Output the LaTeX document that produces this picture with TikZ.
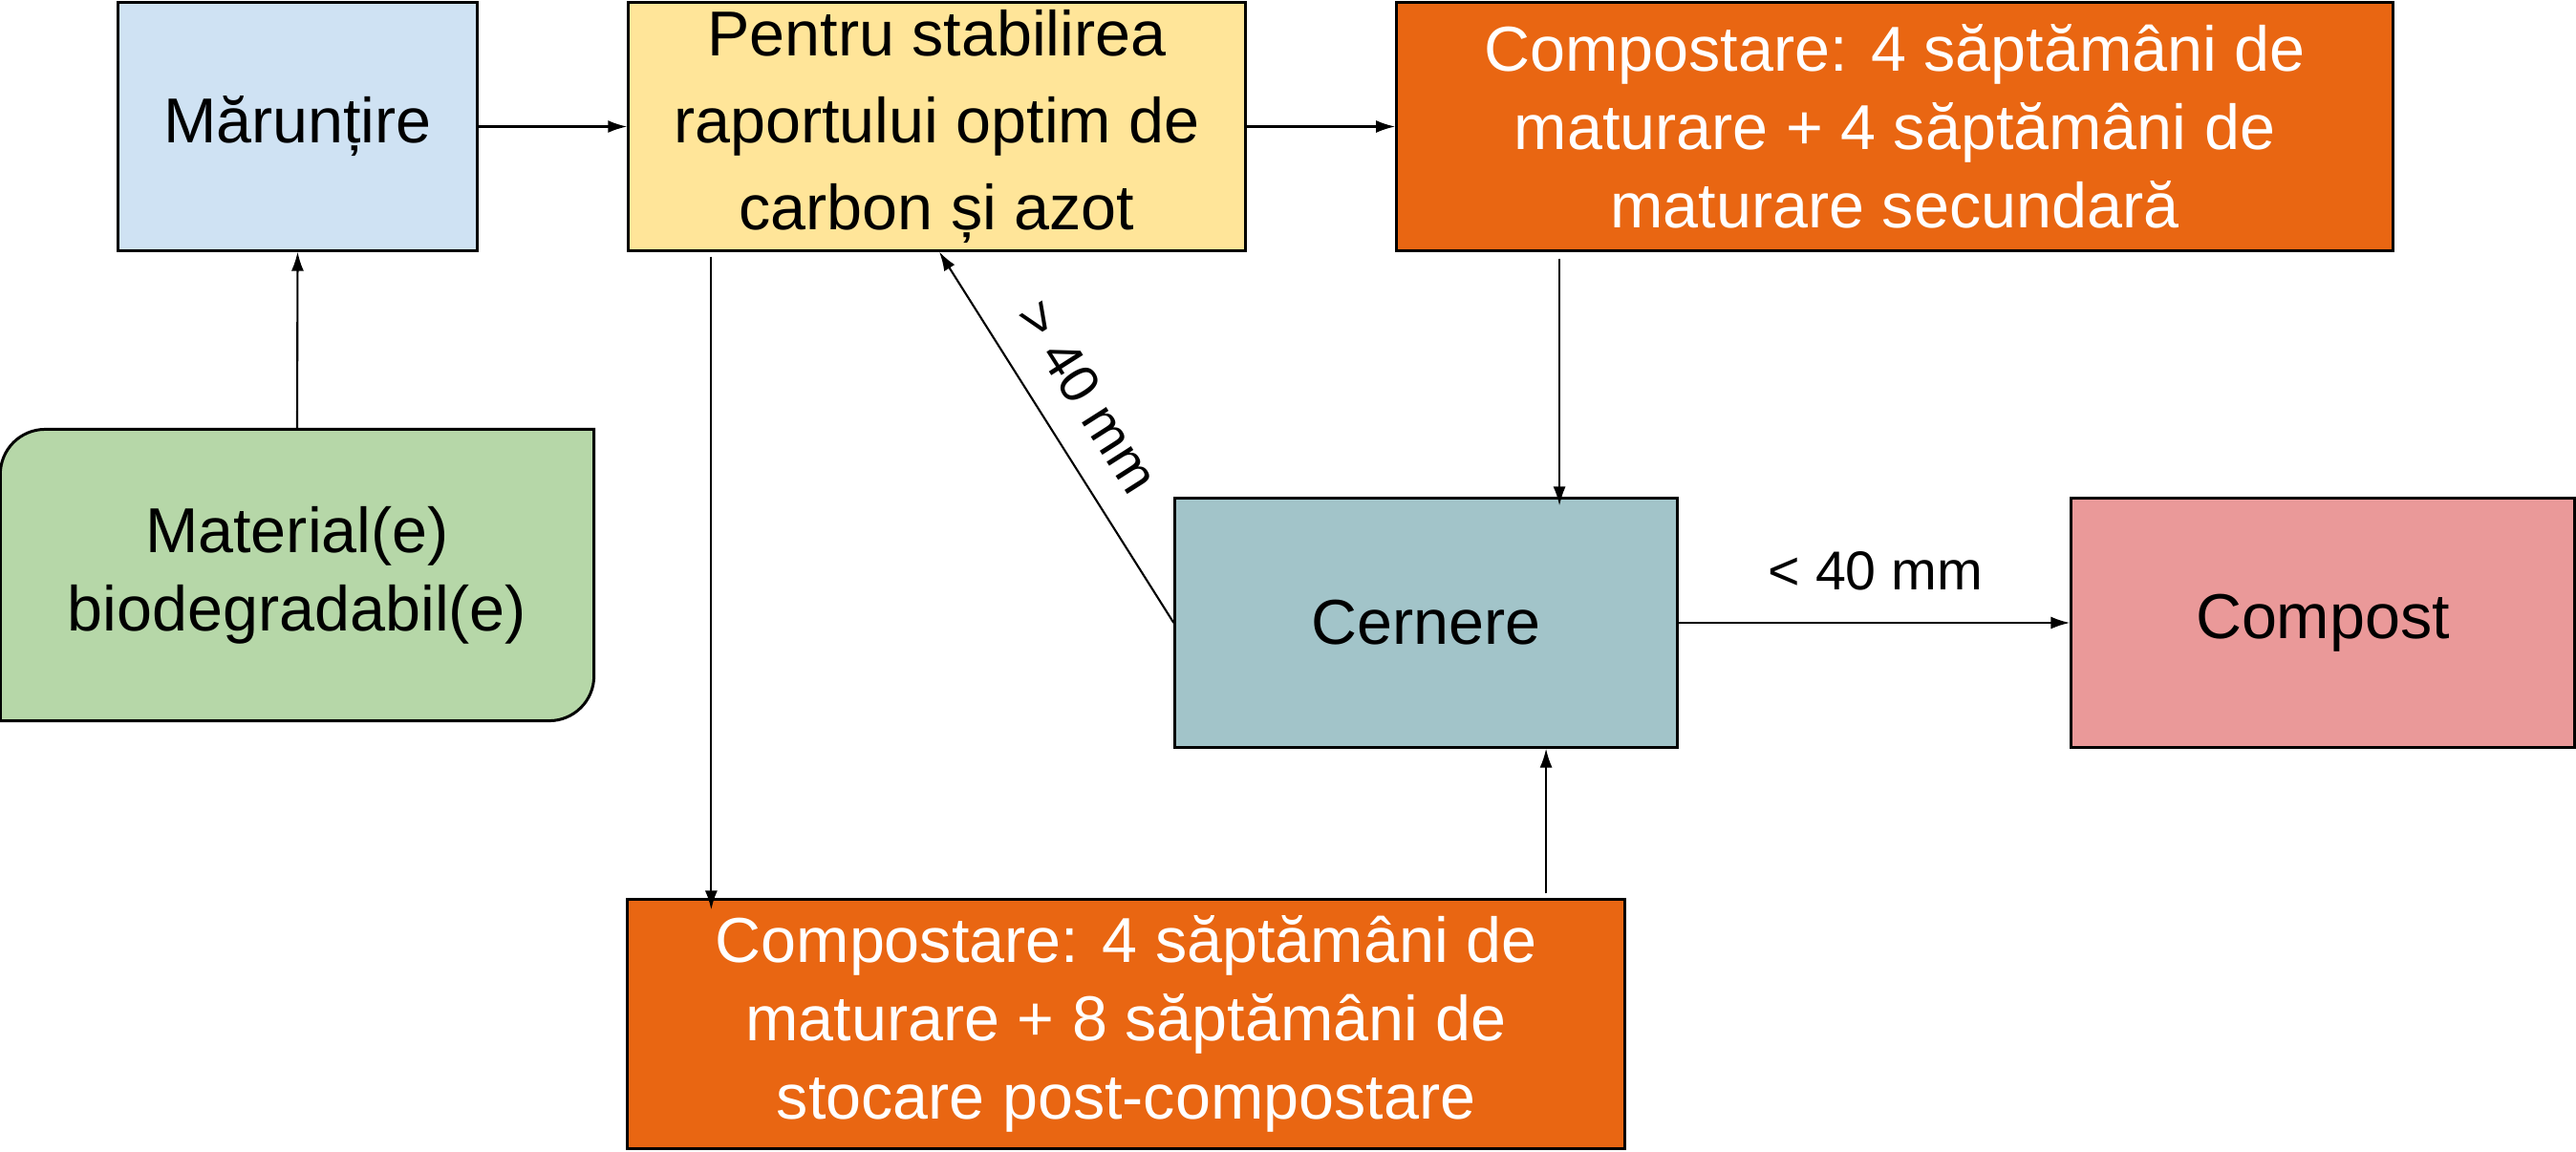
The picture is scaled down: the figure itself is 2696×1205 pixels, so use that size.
\documentclass[tikz,border=0pt]{standalone}
\usepackage{fontspec}
\setmainfont{Liberation Sans}
\usetikzlibrary{arrows.meta,calc,backgrounds}
\definecolor{cblue}{HTML}{CFE2F3}
\definecolor{cyel}{HTML}{FFE599}
\definecolor{corange}{HTML}{E96612}
\definecolor{cgreen}{HTML}{B6D7A8}
\definecolor{cteal}{HTML}{A2C4C9}
\definecolor{cpink}{HTML}{EA9999}
\begin{document}
\begin{tikzpicture}[x=0.01cm,y=-0.01cm,
  box/.style={draw=black, line width=0.85pt, minimum height=2.59cm, align=center, inner sep=0pt, font=\fontsize{18.9pt}{23.3pt}\selectfont},
  arr/.style={-{Latex[length=0.2cm,width=0.13cm]}, line width=0.6pt},
  lbl/.style={font=\fontsize{16.3pt}{19pt}\selectfont, inner sep=0pt}]
\useasboundingbox (0,0) rectangle (2696,1205);
\node[box, fill=cblue, minimum width=3.75cm] (mar) at (311.5,132.5) {Mărunțire};
\node[box, fill=cyel, minimum width=6.45cm, font=\fontsize{18.9pt}{25.9pt}\selectfont] (yel) at (980.5,132.5) {Pentru stabilirea\\raportului optim de\\carbon și azot};
\node[box, fill=corange, text=white, minimum width=10.42cm] (orT) at (1983,132.5) {Compostare: 4 săptămâni de\\maturare + 4 săptămâni de\\maturare secundară};
\node[box, draw=none, minimum width=6.18cm, minimum height=3.02cm] (mat) at (311,602) {Material(e)\\biodegradabil(e)};
\begin{pgfonlayer}{background}
\draw[fill=cgreen, line width=0.85pt]
  (mat.north east)
  -- ([xshift=0.47cm]mat.north west)
  .. controls ([xshift=0.21cm]mat.north west) and ([yshift=-0.21cm]mat.north west) .. ([yshift=-0.47cm]mat.north west)
  -- (mat.south west)
  -- ([xshift=-0.47cm]mat.south east)
  .. controls ([xshift=-0.21cm]mat.south east) and ([yshift=0.21cm]mat.south east) .. ([yshift=0.47cm]mat.south east)
  -- cycle;
\end{pgfonlayer}
\node[box, fill=cteal, minimum width=5.25cm, minimum height=2.6cm] (cern) at (1492.5,652) {Cernere};
\node[box, fill=cpink, minimum width=5.26cm, minimum height=2.6cm] (comp) at (2431,652) {Compost};
\node[box, fill=corange, text=white, minimum width=10.43cm, minimum height=2.6cm] (orB) at (1178.5,1072) {Compostare: 4 săptămâni de\\maturare + 8 săptămâni de\\stocare post-compostare};
% connectors
\draw[arr] (mat.north) -- (mar.south);
\draw[arr] (mar.east) -- (yel.west);
\draw[arr] (yel.east) -- (orT.west);
\coordinate (p1) at ([xshift=1.395cm]cern.north);
\draw[arr, shorten <=0.07cm, shorten >=-0.09cm] (p1 |- orT.south) -- (p1);
\coordinate (p2) at ([xshift=0.88cm]yel.south west);
\draw[arr, shorten <=0.05cm, shorten >=-0.12cm] (p2) -- (p2 |- orB.north);
\coordinate (p3) at ([xshift=1.255cm]cern.south);
\draw[arr, shorten <=0.05cm] (p3 |- orB.north) -- (p3);
\draw[arr] (cern.west) -- ([xshift=0.025cm]yel.south);
\node[lbl, rotate=-57.5] (l1) at (1138,415) {>\ 40 mm};
\draw[arr] (cern.east) -- (comp.west);
\node[lbl] (l2) at (1963,598) {<\ 40 mm};
\end{tikzpicture}
\end{document}
